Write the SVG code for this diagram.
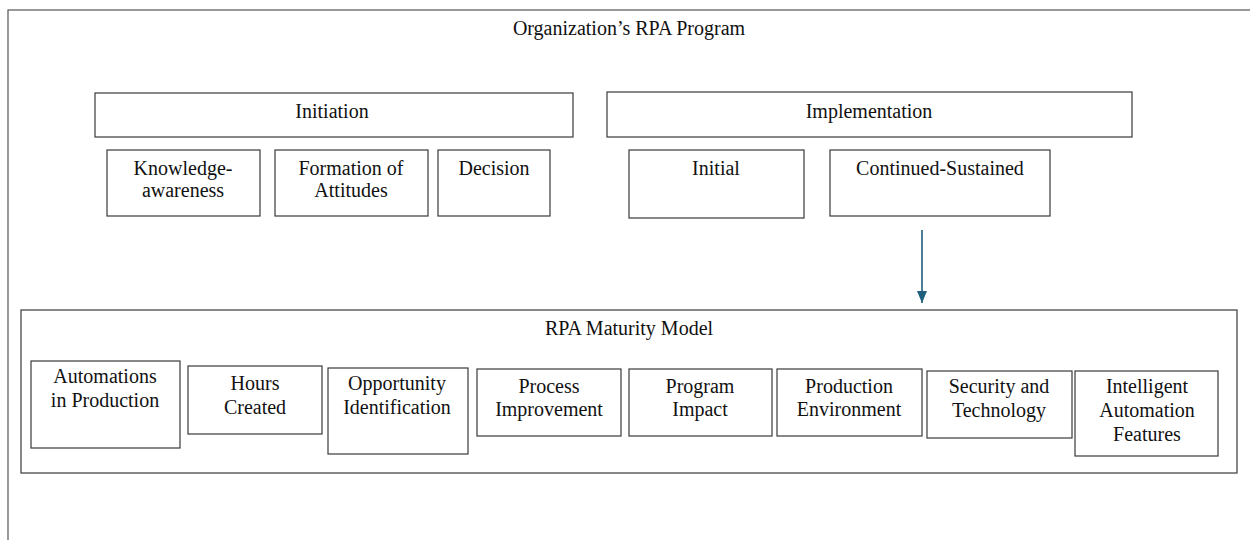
<svg xmlns="http://www.w3.org/2000/svg" width="1250" height="540" viewBox="0 0 1250 540">
  <defs>
    <marker id="arrowhead" viewBox="0 0 12 10" refX="12" refY="5" markerWidth="12" markerHeight="10" markerUnits="userSpaceOnUse" orient="auto">
      <path d="M0,0 L12,5 L0,10 Z" fill="#1f5f7e"/>
    </marker>
  </defs>
  <style>
    .box { fill: #ffffff; stroke: #3a3a3a; stroke-width: 1.2; }
    .frame { fill: none; stroke: #555555; stroke-width: 1.2; }
    .label { font-family: "Liberation Serif", "Times New Roman", serif; font-size: 20px; fill: #111111; text-anchor: middle; }
    .link { stroke: #1f5f7e; stroke-width: 1.6; fill: none; }
  </style>
  <rect x="0" y="0" width="1250" height="540" fill="#ffffff"/>

  <!-- outer program frame -->
  <g id="program">
    <rect class="frame" x="8" y="10" width="1260" height="560"/>
    <text class="label" x="629" y="35">Organization’s RPA Program</text>
  </g>

  <!-- initiation stage -->
  <g id="initiation">
    <rect class="box" x="95" y="93" width="478" height="44"/>
    <text class="label" x="332" y="118">Initiation</text>
  </g>
  <g id="knowledge">
    <rect class="box" x="107" y="150" width="153" height="66"/>
    <text class="label" x="183" y="175">Knowledge-</text>
    <text class="label" x="183" y="197">awareness</text>
  </g>
  <g id="attitudes">
    <rect class="box" x="275" y="150" width="153" height="66"/>
    <text class="label" x="351" y="175">Formation of</text>
    <text class="label" x="351" y="197">Attitudes</text>
  </g>
  <g id="decision">
    <rect class="box" x="438" y="150" width="112" height="66"/>
    <text class="label" x="494" y="175">Decision</text>
  </g>

  <!-- implementation stage -->
  <g id="implementation">
    <rect class="box" x="607" y="92" width="525" height="45"/>
    <text class="label" x="869" y="118">Implementation</text>
  </g>
  <g id="initial">
    <rect class="box" x="629" y="150" width="175" height="68"/>
    <text class="label" x="716" y="175">Initial</text>
  </g>
  <g id="continued">
    <rect class="box" x="830" y="150" width="220" height="66"/>
    <text class="label" x="940" y="175">Continued-Sustained</text>
  </g>

  <!-- maturity model -->
  <g id="maturity">
    <rect class="box" x="21" y="310" width="1216" height="163"/>
    <text class="label" x="629" y="335">RPA Maturity Model</text>
  </g>
  <g id="automations">
    <rect class="box" x="31" y="361" width="149" height="87"/>
    <text class="label" x="105" y="383">Automations</text>
    <text class="label" x="105" y="407">in Production</text>
  </g>
  <g id="hours">
    <rect class="box" x="188" y="366" width="134" height="68"/>
    <text class="label" x="255" y="390">Hours</text>
    <text class="label" x="255" y="414">Created</text>
  </g>
  <g id="opportunity">
    <rect class="box" x="328" y="368" width="140" height="86"/>
    <text class="label" x="397" y="390">Opportunity</text>
    <text class="label" x="397" y="414">Identification</text>
  </g>
  <g id="process">
    <rect class="box" x="477" y="369" width="144" height="67"/>
    <text class="label" x="549" y="393">Process</text>
    <text class="label" x="549" y="416">Improvement</text>
  </g>
  <g id="impact">
    <rect class="box" x="629" y="369" width="143" height="67"/>
    <text class="label" x="700" y="393">Program</text>
    <text class="label" x="700" y="416">Impact</text>
  </g>
  <g id="environment">
    <rect class="box" x="777" y="369" width="145" height="67"/>
    <text class="label" x="849" y="393">Production</text>
    <text class="label" x="849" y="416">Environment</text>
  </g>
  <g id="security">
    <rect class="box" x="927" y="371" width="145" height="67"/>
    <text class="label" x="999" y="393">Security and</text>
    <text class="label" x="999" y="417">Technology</text>
  </g>
  <g id="intelligent">
    <rect class="box" x="1075" y="371" width="143" height="85"/>
    <text class="label" x="1147" y="393">Intelligent</text>
    <text class="label" x="1147" y="417">Automation</text>
    <text class="label" x="1147" y="441">Features</text>
  </g>

  <!-- connectors -->
  <g id="connectors">
    <line class="link" x1="922" y1="230" x2="922" y2="303" marker-end="url(#arrowhead)"/>
  </g>
</svg>
